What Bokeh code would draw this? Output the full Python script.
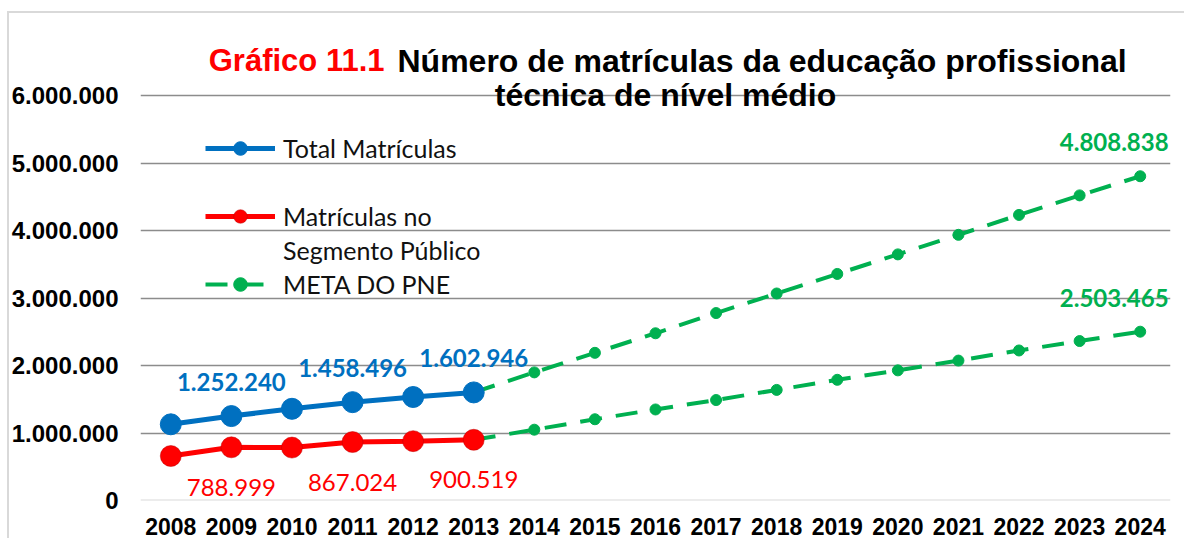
from bokeh.plotting import figure
from bokeh.models import (FactorRange, Range1d, Label, LabelSet, ColumnDataSource,
                          Legend, LegendItem, Span, FixedTicker, CustomJSTickFormatter)
from bokeh.core.properties import value
from bokeh.embed import file_html
from bokeh.resources import INLINE

# ---------------- data ----------------
years = ["2008", "2009", "2010", "2011", "2012", "2013", "2014", "2015", "2016",
         "2017", "2018", "2019", "2020", "2021", "2022", "2023", "2024"]
hist_years = ["2008", "2009", "2010", "2011", "2012", "2013"]
total_matriculas = [1130000, 1252240, 1360000, 1458496, 1535000, 1602946]
matriculas_publico = [660000, 788999, 785000, 867024, 880000, 900519]

meta_years = ["2013", "2014", "2015", "2016", "2017", "2018", "2019", "2020",
              "2021", "2022", "2023", "2024"]
meta_total = [1602946, 1900000, 2190000, 2480000, 2780000, 3070000, 3360000,
              3650000, 3940000, 4235000, 4525000, 4808838]
meta_publico = [900519, 1050000, 1205000, 1350000, 1490000, 1640000, 1790000,
                1930000, 2075000, 2225000, 2365000, 2503465]

y_ticks = [0, 1000000, 2000000, 3000000, 4000000, 5000000, 6000000]

BLUE = "#0070C0"
RED = "#FF0000"
GREEN = "#00B050"
LABEL_FONT = "Lato"
AXIS_FONT = "Liberation Sans"


def fmt(v):
    return f"{v:,}".replace(",", ".")


# ---------------- figure ----------------
p = figure(width=1184, height=538,
           x_range=FactorRange(*years), y_range=Range1d(0, 7000000),
           output_backend="svg", toolbar_location=None,
           min_border_left=140, min_border_right=14,
           min_border_top=28, min_border_bottom=38)
p.outline_line_color = None
p.background_fill_color = "white"
p.border_fill_color = None
# light grey chart-area border (left and top edges, as in the spreadsheet export)
p.styles = {
    "background": ("linear-gradient(#d9d9d9, #d9d9d9) 7px 11px / 2px 100% no-repeat, "
                   "linear-gradient(#d9d9d9, #d9d9d9) 7px 11px / 100% 2px no-repeat, "
                   "#ffffff"),
}

p.xgrid.visible = False
p.ygrid.ticker = FixedTicker(ticks=y_ticks)
p.ygrid.grid_line_color = "#8c8c8c"
p.ygrid.grid_line_width = 1.6

p.yaxis.ticker = FixedTicker(ticks=y_ticks)
p.yaxis.formatter = CustomJSTickFormatter(
    code='return Math.round(tick).toString().replace(/\\B(?=(\\d{3})+(?!\\d))/g, ".");')
for ax in (p.xaxis, p.yaxis):
    ax.axis_line_color = None
    ax.major_tick_line_color = None
    ax.minor_tick_line_color = None
    ax.major_tick_out = 0
    ax.major_tick_in = 0
    ax.major_label_text_font = AXIS_FONT
    ax.major_label_text_font_style = "bold"
    ax.major_label_text_color = "#000000"
p.yaxis.major_label_text_font_size = "24px"
p.xaxis.major_label_text_font_size = "23px"
p.yaxis.major_label_standoff = 22
p.xaxis.major_label_standoff = 17

p.add_layout(Span(location=y_ticks[0], dimension="width",
                  line_color="#d9d9d9", line_width=2))

# ---------------- series ----------------
g1_line = p.line(x=meta_years, y=meta_total, line_color=GREEN, line_width=4,
                 line_dash="22 14")
g1_pts = p.scatter(x=meta_years[1:], y=meta_total[1:], size=11,
                   fill_color=GREEN, line_color=GREEN)
g2_line = p.line(x=meta_years, y=meta_publico, line_color=GREEN, line_width=4,
                 line_dash="22 14")
p.scatter(x=meta_years[1:], y=meta_publico[1:], size=11,
          fill_color=GREEN, line_color=GREEN)

b_line = p.line(x=hist_years, y=total_matriculas, line_color=BLUE, line_width=5)
b_pts = p.scatter(x=hist_years, y=total_matriculas, size=21,
                  fill_color=BLUE, line_color=BLUE)
r_line = p.line(x=hist_years, y=matriculas_publico, line_color=RED, line_width=5)
r_pts = p.scatter(x=hist_years, y=matriculas_publico, size=21,
                  fill_color=RED, line_color="#c00000", line_alpha=0.5)

dummy = p.line(x=[], y=[], line_alpha=0)

# ---------------- data labels ----------------
lab_idx = [1, 3, 5]
blue_src = ColumnDataSource(dict(x=[hist_years[i] for i in lab_idx],
                                 y=[total_matriculas[i] for i in lab_idx],
                                 t=[fmt(total_matriculas[i]) for i in lab_idx]))
red_src = ColumnDataSource(dict(x=[hist_years[i] for i in lab_idx],
                                y=[matriculas_publico[i] for i in lab_idx],
                                t=[fmt(matriculas_publico[i]) for i in lab_idx]))

p.add_layout(LabelSet(x="x", y="y", text="t", source=blue_src, y_offset=34,
                      text_align="center", text_baseline="middle",
                      text_font=value(LABEL_FONT), text_font_style="bold",
                      text_font_size="24px", text_color=BLUE))
p.add_layout(LabelSet(x="x", y="y", text="t", source=red_src, y_offset=-40,
                      text_align="center", text_baseline="middle",
                      text_font=value(LABEL_FONT), text_font_style="normal",
                      text_font_size="24px", text_color=RED))
# end-of-series labels: numeric (synthetic) coordinate of the last category
last_x = years.index(meta_years[-1]) + 0.5
for series in (meta_total, meta_publico):
    p.add_layout(Label(x=last_x, y=series[-1], text=fmt(series[-1]),
                       x_offset=-26, y_offset=34,
                       text_align="center", text_baseline="middle",
                       text_font=LABEL_FONT, text_font_style="bold",
                       text_font_size="24px", text_color=GREEN))

# ---------------- title ----------------
p.add_layout(Label(x=244, y=440, x_units="screen", y_units="screen",
                   text="Gráfico 11.1", text_align="right", text_baseline="alphabetic",
                   text_font=AXIS_FONT, text_font_style="bold",
                   text_font_size="31px", text_color=RED))
p.add_layout(Label(x=257, y=440, x_units="screen", y_units="screen",
                   text="Número de matrículas da educação profissional",
                   text_align="left", text_baseline="alphabetic",
                   text_font=AXIS_FONT, text_font_style="bold",
                   text_font_size="32px", text_color="#000000"))
p.add_layout(Label(x=525, y=406, x_units="screen", y_units="screen",
                   text="técnica de nível médio",
                   text_align="center", text_baseline="alphabetic",
                   text_font=AXIS_FONT, text_font_style="bold",
                   text_font_size="32px", text_color="#000000"))

# ---------------- legend ----------------
legend = Legend(items=[
    LegendItem(label="Total Matrículas", renderers=[b_line, b_pts]),
    LegendItem(label=" ", renderers=[dummy]),
    LegendItem(label="Matrículas no", renderers=[r_line, r_pts]),
    LegendItem(label="Segmento Público", renderers=[dummy]),
    LegendItem(label="META DO PNE", renderers=[g1_line, g1_pts]),
], location=(65, 199), orientation="vertical")
legend.padding = 0
legend.margin = 0
legend.spacing = 0
legend.glyph_width = 70
legend.glyph_height = 34
legend.label_height = 34
legend.label_standoff = 8
legend.border_line_color = None
legend.background_fill_alpha = 0
legend.label_text_font = LABEL_FONT
legend.label_text_font_size = "25px"
legend.label_text_color = "#111111"
legend.label_text_baseline = "middle"
p.add_layout(legend, "center")

open("out.html", "w").write(file_html(p, INLINE))
